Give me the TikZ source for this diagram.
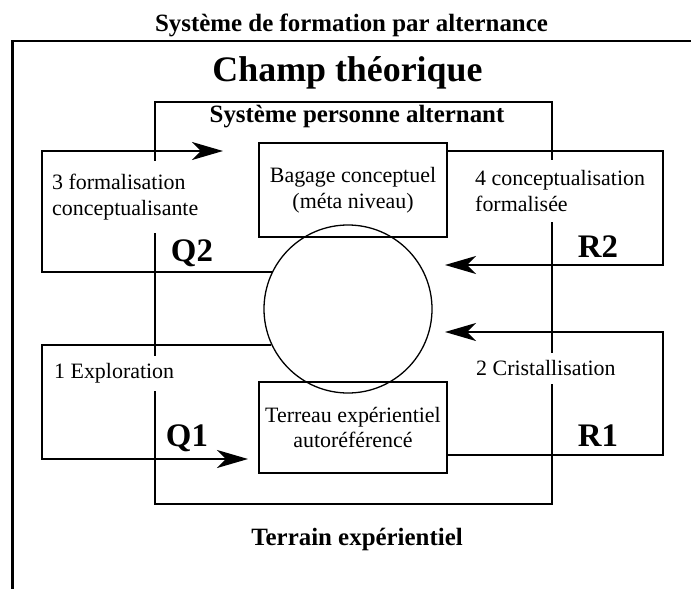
\documentclass[tikz,border=0pt]{standalone}
\usepackage{fontspec}
\setmainfont{Liberation Serif}
\usetikzlibrary{arrows.meta}
\begin{document}
\begin{tikzpicture}[x=1bp,y=-1bp,
  frameline/.style={line width=2.8bp, line join=miter},
  innerframe/.style={draw, line width=2.6bp, inner sep=0},
  headtext/.style={font=\fontsize{25}{30}\selectfont\bfseries, inner sep=0},
  boxnode/.style={draw, line width=2.1bp, minimum width=188bp, align=center,
    font=\fontsize{22}{26}\selectfont, inner sep=0},
  loopline/.style={line width=2.2bp, line join=miter},
  arr/.style={-{Stealth[length=31bp,width=18bp,inset=9bp]}},
  lbl/.style={font=\fontsize{22}{26}\selectfont, align=left, fill=white,
    inner xsep=1bp, inner ysep=0},
  qr/.style={font=\fontsize{33}{36}\selectfont\bfseries, inner sep=0}
]
\useasboundingbox (0,0) rectangle (691,589);

% title and outer frame
\node[headtext, anchor=base] (title) at (351.5,32) {Système de formation par alternance};
\coordinate (fr1) at (691,41);
\coordinate (fr2) at (12.7,41);
\coordinate (fr3) at (12.7,589);
\draw[frameline] (fr1) -- (fr2) -- (fr3);

\node[font=\fontsize{36}{40}\selectfont\bfseries, anchor=base, inner sep=0] (champ) at (347.5,82) {Champ théorique};

% inner system frame
\node[innerframe, minimum width=397bp, minimum height=402bp] (sys) at (353.5,303) {};
\node[headtext, anchor=base] (spa) at (357,123) {Système personne alternant};
\node[headtext, anchor=base] (terrain) at (357,545) {Terrain expérientiel};

% boxes and circle
\node[boxnode, minimum height=94bp] (bag) at (353,190) {Bagage conceptuel\\(méta niveau)};
\node[boxnode, minimum height=91bp] (ter) at (353,427.5) {Terreau expérientiel\\autoréférencé};
\node[circle, draw, line width=1.3bp, minimum size=168bp, inner sep=0] (c) at (348,309) {};

% arrow tips (free ends)
\coordinate (t3) at (223,151);
\coordinate (t4) at (445,265);
\coordinate (t2) at (445,332);
\coordinate (t1) at (248,459);
\coordinate (hr) at (0,455);

% loops
\draw[loopline, arr] (c.154.6) -| (42,151) -- (t3);
\draw[loopline, arr] (bag.east |- t3) -| (663,265) -- (t4);
\draw[loopline, arr] (ter.east |- hr) -| (663,332) -- (t2);
\draw[loopline, arr] (c.205.4) -| (42,459) -- (t1);

% labels
\node[lbl, anchor=west, minimum height=71bp] (l3) at (51,197) {3 formalisation\\conceptualisante};
\node[lbl, anchor=west, minimum height=62bp] (l4) at (474,191) {4 conceptualisation\\formalisée};
\node[lbl, anchor=west, minimum height=35bp] (l1) at (53,373) {1 Exploration};
\node[lbl, anchor=west, minimum height=31bp] (l2) at (475,368) {2 Cristallisation};

\node[qr, anchor=base] (q2) at (192,261) {Q2};
\node[qr, anchor=base] (r2) at (598,257) {R2};
\node[qr, anchor=base] (q1) at (187,446) {Q1};
\node[qr, anchor=base] (r1) at (598,446) {R1};
\end{tikzpicture}
\end{document}
